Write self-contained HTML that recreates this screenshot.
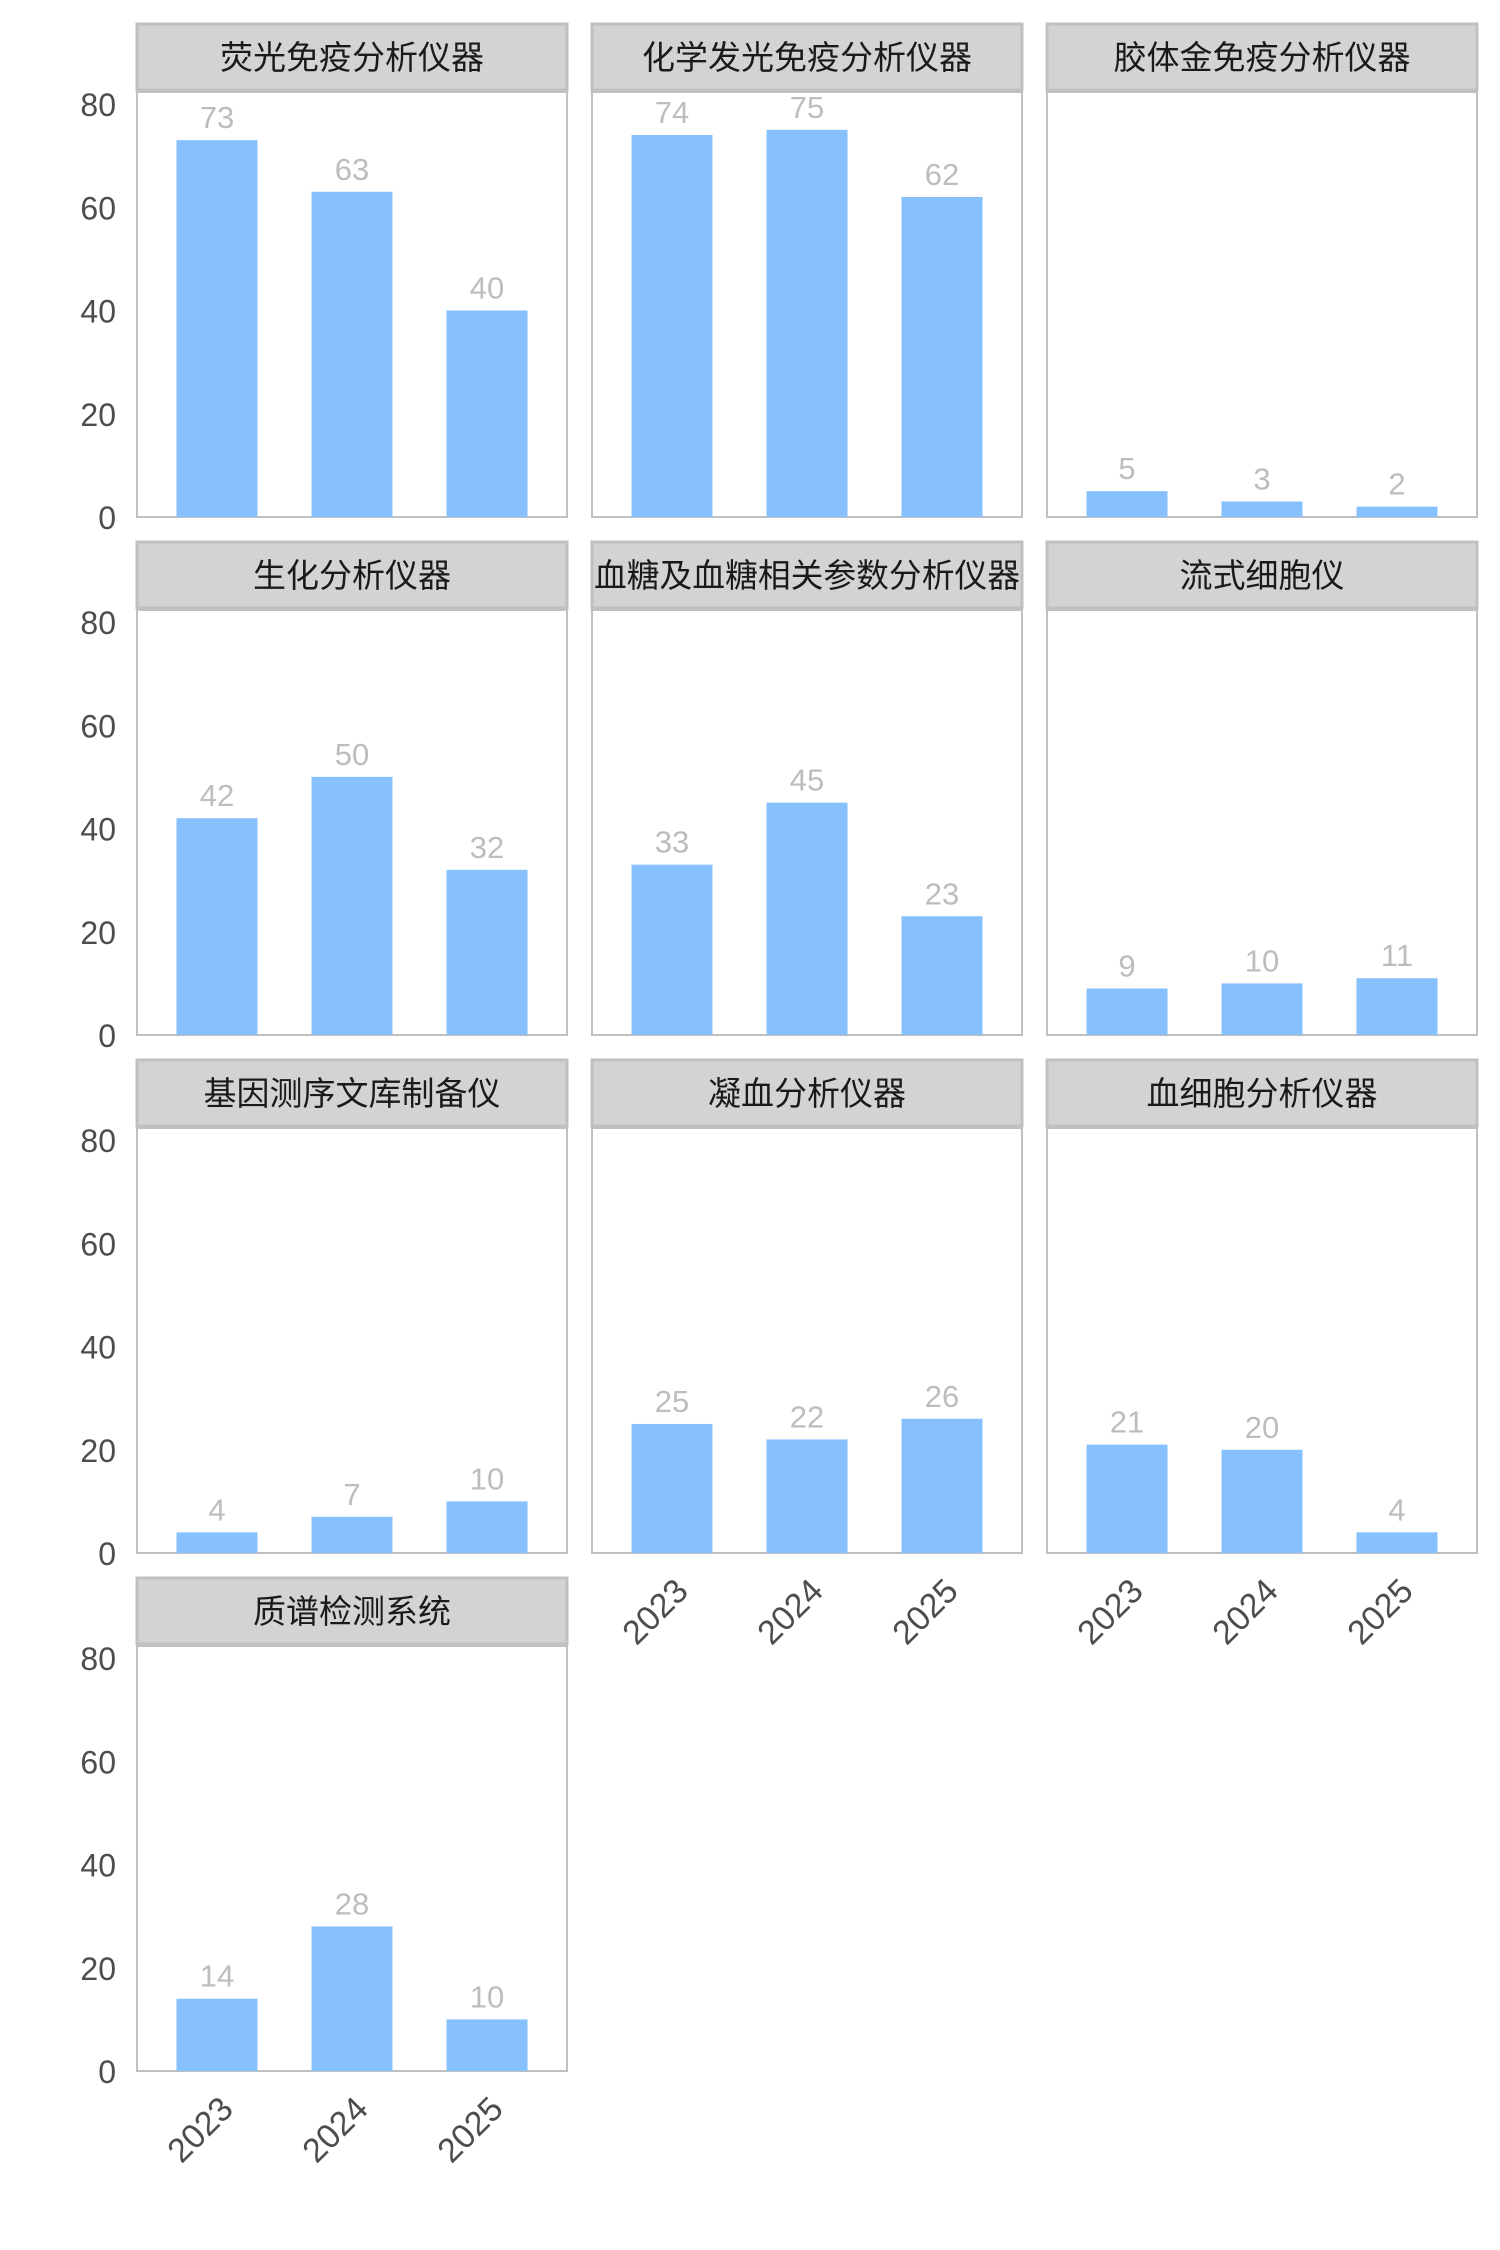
<!DOCTYPE html>
<html><head><meta charset="utf-8"><style>
html,body{margin:0;padding:0;background:#fff;}
svg{display:block;}
.t{font-family:"Liberation Sans","Noto Sans CJK SC",sans-serif;}
</style></head><body>
<svg width="1500" height="2250" viewBox="0 0 1500 2250" xmlns="http://www.w3.org/2000/svg" class="t">
<g id="root"></g>
</svg>
<script>
const data=[
["荧光免疫分析仪器",[73,63,40]],
["化学发光免疫分析仪器",[74,75,62]],
["胶体金免疫分析仪器",[5,3,2]],
["生化分析仪器",[42,50,32]],
["血糖及血糖相关参数分析仪器",[33,45,23]],
["流式细胞仪",[9,10,11]],
["基因测序文库制备仪",[4,7,10]],
["凝血分析仪器",[25,22,26]],
["血细胞分析仪器",[21,20,4]],
["质谱检测系统",[14,28,10]]];
const colX=[137,592,1047], W=430, rowH=518, stripTop=24, stripH=66, plotBot=517, k=413/80;
const offs=[80,215,350], bw=81;
let s='';
data.forEach((d,i)=>{
 const r=Math.floor(i/3), c=i%3, x=colX[c], oy=r*rowH;
 const st=stripTop+oy, pb=plotBot+oy;
 s+=`<rect x="${x}" y="${st}" width="${W}" height="${stripH}" fill="#d3d3d3" stroke="#c0c0c0" stroke-width="3"/>`;
 const long=d[0].length>10;
 s+=`<text x="${x+W/2}" y="${st+stripH/2+12}" font-size="33" fill="#1a1a1a" text-anchor="middle"${long?` textLength="${W-4}" lengthAdjust="spacingAndGlyphs"`:''}>${d[0]}</text>`;
 s+=`<rect x="${x}" y="${st+stripH+2}" width="${W}" height="${pb-st-stripH-2}" fill="#fff" stroke="#c0c0c0" stroke-width="2"/>`;
 d[1].forEach((v,j)=>{
  const h=v*k, bx=x+offs[j]-bw/2;
  s+=`<rect x="${bx}" y="${pb-h}" width="${bw}" height="${h}" fill="#87c1fd"/>`;
  s+=`<text x="${x+offs[j]}" y="${pb-h-12}" font-size="31" fill="#bdbdbd" text-anchor="middle">${v}</text>`;
 });
 if(c===0){
  [0,20,40,60,80].forEach(t=>{
   s+=`<text x="116" y="${pb-t*k+12}" font-size="32" fill="#4d4d4d" text-anchor="end">${t}</text>`;
  });
 }
 const last = (r===3)||(r===2&&c>0);
 if(last){
  ['2023','2024','2025'].forEach((yr,j)=>{
   const ax=x+offs[j]+18, ay=pb+40;
   s+=`<text x="${ax}" y="${ay}" font-size="34" fill="#4d4d4d" text-anchor="end" transform="rotate(-45 ${ax} ${ay})">${yr}</text>`;
  });
 }
});
document.getElementById('root').innerHTML=s;
</script>
</body></html>
